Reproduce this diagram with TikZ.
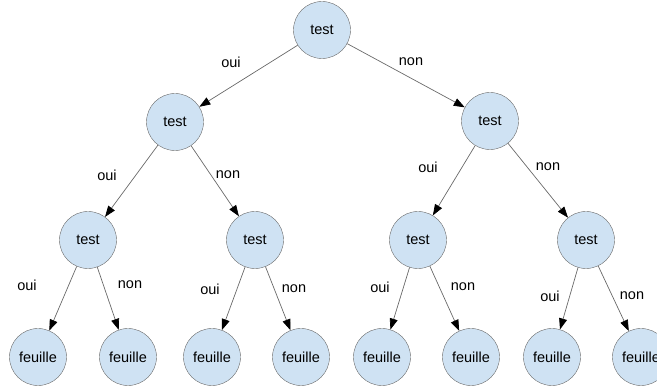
\documentclass[tikz,border=0pt]{standalone}
\usepackage{fontspec}
\setmainfont{Liberation Sans}
\usepackage{xcolor}
\usetikzlibrary{arrows.meta}
\definecolor{bulle}{RGB}{207,226,243}
\definecolor{trait}{RGB}{105,105,105}
\tikzset{
  noeud/.style={circle,draw=trait,fill=bulle,minimum size=57pt,inner sep=0pt,
    font=\fontsize{14.5}{16}\selectfont},
  fleche/.style={draw=trait,line width=0.7pt,-{Triangle[length=11pt,width=8pt,black]}},
  etiq/.style={font=\fontsize{14.5}{16}\selectfont}
}
\begin{document}
\begin{tikzpicture}[x=1pt,y=-1pt]
                \useasboundingbox (0,0) rectangle (657,387);
                % tests
                \node[noeud] (r) at (322,30) {test};
                \node[noeud] (g) at (175,122) {test};
                \node[noeud] (d) at (490,121) {test};
                \node[noeud] (gg) at (88,240) {test};
                \node[noeud] (gd) at (255,240) {test};
                \node[noeud] (dg) at (418,240) {test};
                \node[noeud] (dd) at (586,240) {test};
                % feuilles
                \node[noeud] (f1) at (38,357) {feuille};
                \node[noeud] (f2) at (128,357) {feuille};
                \node[noeud] (f3) at (212,357) {feuille};
                \node[noeud] (f4) at (301,357) {feuille};
                \node[noeud] (f5) at (382,357) {feuille};
                \node[noeud] (f6) at (471,357) {feuille};
                \node[noeud] (f7) at (552,357) {feuille};
                \node[noeud] (f8) at (641,357) {feuille};
                % branches
                \draw[fleche] (r) -- (g);
                \draw[fleche] (r) -- (d);
                \draw[fleche] (g) -- (gg);
                \draw[fleche] (g) -- (gd);
                \draw[fleche] (d) -- (dg);
                \draw[fleche] (d) -- (dd);
                \draw[fleche] (gg) -- (f1);
                \draw[fleche] (gg) -- (f2);
                \draw[fleche] (gd) -- (f3);
                \draw[fleche] (gd) -- (f4);
                \draw[fleche] (dg) -- (f5);
                \draw[fleche] (dg) -- (f6);
                \draw[fleche] (dd) -- (f7);
                \draw[fleche] (dd) -- (f8);
                % oui / non
                \node[etiq] (e1) at (231,62) {oui};
                \node[etiq] (e2) at (411,62) {non};
                \node[etiq] (e3) at (107,175) {oui};
                \node[etiq] (e4) at (228,175) {non};
                \node[etiq] (e5) at (428,167) {oui};
                \node[etiq] (e6) at (548,167) {non};
                \node[etiq] (e7) at (27,285) {oui};
                \node[etiq] (e8) at (130,285) {non};
                \node[etiq] (e9) at (210,289) {oui};
                \node[etiq] (e10) at (294,289) {non};
                \node[etiq] (e11) at (380,287) {oui};
                \node[etiq] (e12) at (463,287) {non};
                \node[etiq] (e13) at (550,296) {oui};
                \node[etiq] (e14) at (632,296) {non};
            \end{tikzpicture}
\end{document}
